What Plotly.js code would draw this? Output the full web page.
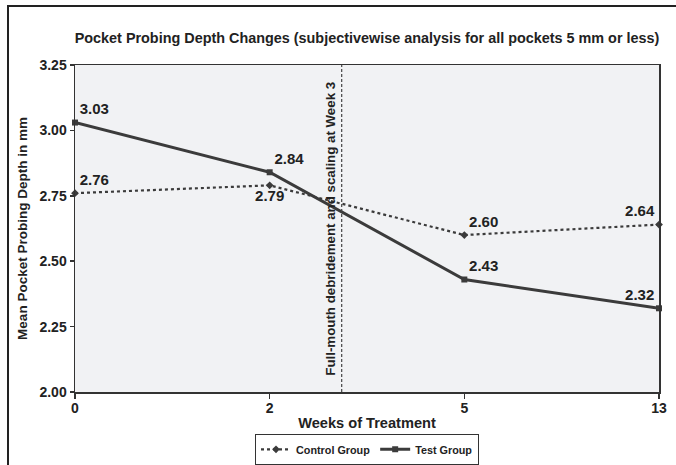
<!DOCTYPE html>
<html>
<head>
<meta charset="utf-8">
<script src="https://cdn.plot.ly/plotly-3.0.1.min.js"></script>
<style>
  html, body { margin: 0; padding: 0; background: #fff; }
  #wrap { position: relative; width: 676px; height: 465px; overflow: hidden; }
  #chart { width: 676px; height: 465px; }
  #frame { position: absolute; left: 7px; top: 5px; width: 700px; height: 500px;
           border-left: 2px solid #222; border-top: 2px solid #222; pointer-events: none; }
</style>
</head>
<body>
<div id="wrap">
  <div id="chart"></div>
  <div id="frame"></div>
</div>
<script>
// ---- data ----
const weeks = ['0', '2', '5', '13'];
const controlGroup = [2.76, 2.79, 2.60, 2.64];
const testGroup = [3.03, 2.84, 2.43, 2.32];
const yTicks = [2.00, 2.25, 2.50, 2.75, 3.00, 3.25];
const eventPosition = 1.37; // Week 3, between week 2 and week 5 categories
const eventLabel = 'Full-mouth debridement and scaling at Week 3';

const FONT = 'Liberation Sans, Arial, sans-serif';
const INK = '#3b3b3b';

const fmt = v => v.toFixed(2);

const traces = [
  {
    x: weeks, y: controlGroup, name: 'Control Group',
    type: 'scatter', mode: 'lines+markers+text',
    line: { color: INK, width: 2.2, dash: 'dot' },
    marker: { symbol: 'diamond', size: 6, color: INK },
    text: controlGroup.map(fmt),
    textposition: ['top right', 'bottom center', 'top right', 'top left'],
    textfont: { family: FONT, size: 15, color: '#222', weight: 'bold' },
    cliponaxis: false
  },
  {
    x: weeks, y: testGroup, name: 'Test Group',
    type: 'scatter', mode: 'lines+markers+text',
    line: { color: INK, width: 3 },
    marker: { symbol: 'square', size: 6, color: INK },
    text: testGroup.map(fmt),
    textposition: ['top right', 'top right', 'top right', 'top left'],
    textfont: { family: FONT, size: 15, color: '#222', weight: 'bold' },
    cliponaxis: false
  }
];

const layout = {
  width: 676, height: 465,
  margin: { l: 75, r: 17, t: 65, b: 73, autoexpand: false },
  paper_bgcolor: '#ffffff',
  plot_bgcolor: '#f1f2f4',
  font: { family: FONT, color: '#222' },
  title: {
    text: 'Pocket Probing Depth Changes (subjectivewise analysis for all pockets 5 mm or less)',
    font: { family: FONT, size: 14.4, color: '#222', weight: 'bold' },
    x: 0.5, xref: 'paper', xanchor: 'center',
    y: 1 - 38 / 465, yref: 'container', yanchor: 'middle'
  },
  xaxis: {
    type: 'category',
    range: [0, 3],
    showgrid: false, zeroline: false,
    showline: true, linecolor: '#333', linewidth: 1.5, mirror: true,
    ticks: 'outside', ticklen: 5, tickcolor: '#333', tickwidth: 1.5,
    ticklabelstandoff: -2,
    tickfont: { family: FONT, size: 14, color: '#222', weight: 'bold' },
    title: { text: 'Weeks of Treatment', standoff: 2,
             font: { family: FONT, size: 14.6, color: '#222', weight: 'bold' } }
  },
  yaxis: {
    range: [2.0, 3.25],
    tickvals: yTicks, ticktext: yTicks.map(fmt),
    showgrid: false, zeroline: false,
    showline: true, linecolor: '#333', linewidth: 1.5, mirror: true,
    ticks: 'outside', ticklen: 4, tickcolor: '#333', tickwidth: 1.5,
    tickfont: { family: FONT, size: 14, color: '#222', weight: 'bold' },
    title: { text: 'Mean Pocket Probing Depth in mm', standoff: 8,
             font: { family: FONT, size: 13.5, color: '#222', weight: 'bold' } }
  },
  showlegend: true,
  legend: {
    orientation: 'h', x: 0.5, xanchor: 'center', y: -0.128, yanchor: 'top',
    bgcolor: '#ffffff', bordercolor: '#333', borderwidth: 1,
    font: { family: FONT, size: 10.8, color: '#222', weight: 'bold' },
    itemwidth: 30
  },
  shapes: [
    {
      type: 'line', xref: 'x', yref: 'paper',
      x0: eventPosition, x1: eventPosition, y0: 0, y1: 1,
      line: { color: '#444', width: 1.2, dash: '3px,2px' }
    }
  ],
  annotations: [
    {
      text: eventLabel, xref: 'x', yref: 'paper',
      x: eventPosition, y: 0.5, xanchor: 'right', yanchor: 'middle',
      xshift: -2, textangle: -90, showarrow: false,
      font: { family: FONT, size: 13.3, color: '#222', weight: 'bold' }
    }
  ]
};

Plotly.newPlot('chart', traces, layout, { displayModeBar: false, staticPlot: true });
</script>
</body>
</html>
